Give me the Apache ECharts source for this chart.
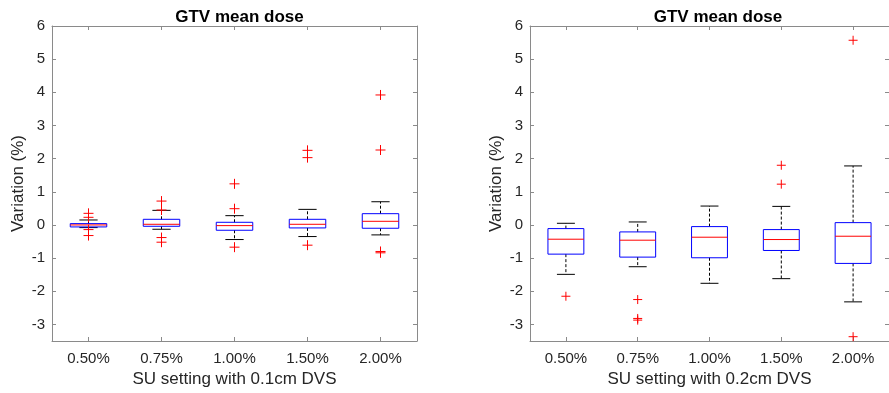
<!DOCTYPE html>
<html>
<head>
<meta charset="utf-8">
<script src="https://cdn.jsdelivr.net/npm/echarts@6/dist/echarts.min.js"></script>
<style>html,body{margin:0;padding:0;background:#fff;}#c{width:889px;height:393px;}</style>
</head>
<body>
<div id="c"></div>
<script>
// ---- Data ----
const categories = ['0.50%', '0.75%', '1.00%', '1.50%', '2.00%'];

// Left panel: SU setting with 0.1cm DVS
const leftLower  = [-0.08, -0.13, -0.44, -0.35, -0.30];
const leftQ1     = [-0.06, -0.04, -0.16, -0.09, -0.10];
const leftMedian = [ 0.00,  0.02, -0.02,  0.02,  0.11];
const leftQ3     = [ 0.04,  0.17,  0.08,  0.17,  0.34];
const leftUpper  = [ 0.15,  0.44,  0.28,  0.47,  0.70];
const leftOutliers = [
  [0.35, 0.23, -0.14, -0.32],
  [0.72, 0.45, -0.38, -0.52],
  [1.24, 0.49, -0.67],
  [2.25, 2.03, -0.61],
  [3.92, 2.26, -0.80, -0.84]
];

// Right panel: SU setting with 0.2cm DVS
const rightLower  = [-1.49, -1.26, -1.76, -1.62, -2.32];
const rightQ1     = [-0.88, -0.97, -0.99, -0.77, -1.16];
const rightMedian = [-0.43, -0.46, -0.37, -0.44, -0.34];
const rightQ3     = [-0.11, -0.21, -0.05, -0.14,  0.07];
const rightUpper  = [ 0.05,  0.09,  0.57,  0.56,  1.78];
const rightOutliers = [
  [-2.15],
  [-2.25, -2.82, -2.87],
  [],
  [1.80, 1.23],
  [5.57, -3.37]
];

const yTickMin = -3.5, yTickMax = 6;
const titleText = 'GTV mean dose';
const yName = 'Variation (%)';
const xNames = ['SU setting with 0.1cm DVS', 'SU setting with 0.2cm DVS'];

// ---- Build ----
function boxData(lo, q1, med, q3, hi) {
  return categories.map((c, i) => [i, lo[i], q1[i], med[i], q3[i], hi[i]]);
}
function outlierData(outs) {
  const d = [];
  outs.forEach((arr, i) => arr.forEach(v => d.push([i, v])));
  return d;
}

const FONT = '"Liberation Sans", Arial, Helvetica, sans-serif';
const TXT = '#262626';
const AX = '#8a8a8a';

function renderBox(params, api) {
  const x = api.value(0);
  const lo = api.coord([x, api.value(1)]);
  const q1 = api.coord([x, api.value(2)]);
  const med = api.coord([x, api.value(3)]);
  const q3 = api.coord([x, api.value(4)]);
  const hi = api.coord([x, api.value(5)]);
  const band = api.size([1, 0])[0];
  const bw = band * 0.5;
  const cw = bw * 0.5;
  const cx = lo[0];
  const dash = {stroke: '#000', lineWidth: 1, lineDash: [3, 2]};
  const solidK = {stroke: '#000', lineWidth: 1};
  return {
    type: 'group',
    children: [
      {type: 'line', shape: {x1: cx, y1: q3[1], x2: cx, y2: hi[1]}, style: dash},
      {type: 'line', shape: {x1: cx, y1: q1[1], x2: cx, y2: lo[1]}, style: dash},
      {type: 'line', shape: {x1: cx - cw / 2, y1: hi[1], x2: cx + cw / 2, y2: hi[1]}, style: solidK},
      {type: 'line', shape: {x1: cx - cw / 2, y1: lo[1], x2: cx + cw / 2, y2: lo[1]}, style: solidK},
      {type: 'rect', shape: {x: cx - bw / 2, y: q3[1], width: bw, height: q1[1] - q3[1]},
        style: {fill: 'none', stroke: '#0000ff', lineWidth: 1}},
      {type: 'line', shape: {x1: cx - bw / 2, y1: med[1], x2: cx + bw / 2, y2: med[1]},
        style: {stroke: '#ff0000', lineWidth: 1}}
    ]
  };
}
function makeOutlierRenderer(size) {
  return function (params, api) {
    const p = api.coord([api.value(0), api.value(1)]);
    const h = size / 2;
    const st = {stroke: '#ff0000', lineWidth: 1};
    return {
      type: 'group',
      children: [
        {type: 'line', shape: {x1: p[0] - h, y1: p[1], x2: p[0] + h, y2: p[1]}, style: st},
        {type: 'line', shape: {x1: p[0], y1: p[1] - h, x2: p[0], y2: p[1] + h}, style: st}
      ]
    };
  };
}

const grids = [
  {left: 52, top: 26, width: 365, height: 315},
  {left: 530, top: 26, width: 366, height: 315}
];

const xAxes = [], yAxes = [];
[0, 1].forEach(g => {
  xAxes.push({
    type: 'category', gridIndex: g, data: categories, position: 'bottom',
    name: xNames[g], nameLocation: 'middle', nameGap: 30,
    nameTextStyle: {color: TXT, fontSize: 17, fontFamily: FONT},
    axisLine: {show: true, onZero: false, lineStyle: {color: AX, width: 1}},
    axisTick: {show: true, inside: true, length: 4, alignWithLabel: true, lineStyle: {color: AX}},
    axisLabel: {color: TXT, fontSize: 15, fontFamily: FONT, margin: 10},
    splitLine: {show: false}
  });
  xAxes.push({
    type: 'category', gridIndex: g, data: categories, position: 'top',
    axisLine: {show: true, onZero: false, lineStyle: {color: AX, width: 1}},
    axisTick: {show: true, inside: true, length: 4, alignWithLabel: true, lineStyle: {color: AX}},
    axisLabel: {show: false}, splitLine: {show: false}
  });
  yAxes.push({
    type: 'value', gridIndex: g, min: yTickMin, max: yTickMax, splitNumber: 10, position: 'left',
    name: yName, nameLocation: 'middle', nameGap: 25, nameRotate: 90,
    nameTextStyle: {color: TXT, fontSize: 17, fontFamily: FONT},
    axisLine: {show: true, onZero: false, lineStyle: {color: AX, width: 1}},
    axisTick: {show: true, inside: true, length: 4, lineStyle: {color: AX}},
    axisLabel: {color: TXT, fontSize: 15, fontFamily: FONT, margin: 7,
      formatter: v => (Number.isInteger(v) ? String(v) : '')},
    splitLine: {show: false}
  });
  yAxes.push({
    type: 'value', gridIndex: g, min: yTickMin, max: yTickMax, splitNumber: 10, position: 'right',
    axisLine: {show: true, onZero: false, lineStyle: {color: AX, width: 1}},
    axisTick: {show: true, inside: true, length: 4, lineStyle: {color: AX}},
    axisLabel: {show: false}, splitLine: {show: false}
  });
});

const option = {
  animation: false,
  backgroundColor: '#fff',
  title: [
    {text: titleText, left: 234.5, top: 4, textAlign: 'center',
      textStyle: {color: '#000', fontSize: 17, fontWeight: 'bold', fontFamily: FONT}},
    {text: titleText, left: 713, top: 4, textAlign: 'center',
      textStyle: {color: '#000', fontSize: 17, fontWeight: 'bold', fontFamily: FONT}}
  ],
  grid: grids,
  xAxis: xAxes,
  yAxis: yAxes,
  series: [
    {type: 'custom', xAxisIndex: 0, yAxisIndex: 0, renderItem: renderBox,
      data: boxData(leftLower, leftQ1, leftMedian, leftQ3, leftUpper), z: 2},
    {type: 'custom', xAxisIndex: 0, yAxisIndex: 0, renderItem: makeOutlierRenderer(10),
      data: outlierData(leftOutliers), z: 3},
    {type: 'custom', xAxisIndex: 2, yAxisIndex: 2, renderItem: renderBox,
      data: boxData(rightLower, rightQ1, rightMedian, rightQ3, rightUpper), z: 2},
    {type: 'custom', xAxisIndex: 2, yAxisIndex: 2, renderItem: makeOutlierRenderer(9),
      data: outlierData(rightOutliers), z: 3}
  ]
};

const chart = echarts.init(document.getElementById('c'), null, {renderer: 'canvas'});
chart.setOption(option);
</script>
</body>
</html>
